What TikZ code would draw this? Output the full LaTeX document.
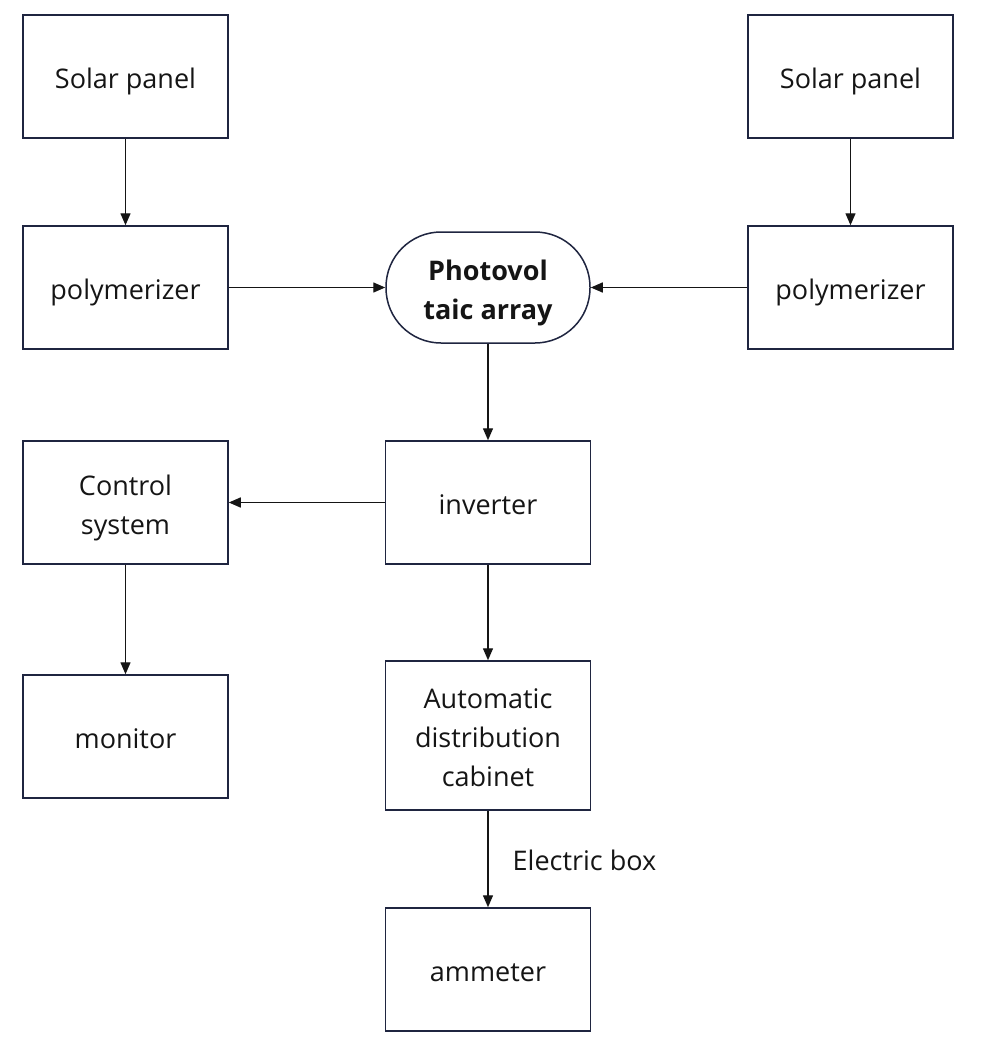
\documentclass[tikz,border=0pt]{standalone}
\usepackage{fontspec}
\setmainfont{Open Sans}
\usetikzlibrary{arrows.meta}
\definecolor{edge}{HTML}{1F2540}
\definecolor{ink}{HTML}{151515}
\newcommand{\lowtxt}[1]{\raisebox{-4.5pt}[\height][\depth]{\begin{tabular}{@{}c@{}}#1\end{tabular}}}
\begin{document}
\begin{tikzpicture}[x=1pt,y=-1pt,
  box/.style={draw=edge,line width=1.5pt,fill=white,minimum width=205pt,minimum height=123pt,
    inner sep=0pt,align=center,text=ink,font=\fontsize{27}{39}\selectfont},
  stadium/.style={box,minimum height=111pt,minimum width=204pt,rounded corners=55pt,
    font=\fontsize{27}{39}\selectfont\bfseries},
  arr/.style={draw=ink,line width=1.4pt,-{Triangle[length=12pt,width=10pt]}},
  lbl/.style={text=ink,font=\fontsize{27}{39}\selectfont,inner sep=0pt}]
\useasboundingbox[fill=white] (0,0) rectangle (980,1049);
\node[box] (sp1) at (125.5,76.5) {\lowtxt{Solar panel}};
\node[box] (sp2) at (850.5,76.5) {\lowtxt{Solar panel}};
\node[box] (po1) at (125.5,287.5) {\lowtxt{polymerizer}};
\node[box] (po2) at (850.5,287.5) {\lowtxt{polymerizer}};
\node[stadium] (pv) at (488,287.5) {\lowtxt{Photovol\\taic array}};
\node[box] (inv) at (488,502.5) {\lowtxt{inverter}};
\node[box] (ctl) at (125.5,502.5) {\lowtxt{Control\\system}};
\node[box] (mon) at (125.5,736.5) {\lowtxt{monitor}};
\node[box,minimum height=149pt] (cab) at (488,735.5) {\lowtxt{Automatic\\distribution\\cabinet}};
\node[box] (amm) at (488,969.5) {\lowtxt{ammeter}};
\draw[arr] (sp1) -- (po1);
\draw[arr] (sp2) -- (po2);
\draw[arr] (po1) -- (pv);
\draw[arr] (po2) -- (pv);
\draw[arr] (pv) -- (inv);
\draw[arr] (inv) -- (ctl);
\draw[arr] (ctl) -- (mon);
\draw[arr] (inv) -- (cab);
\draw[arr] (cab) -- node[lbl,anchor=west,xshift=24pt,yshift=-1pt] {Electric box} (amm);
\end{tikzpicture}
\end{document}
